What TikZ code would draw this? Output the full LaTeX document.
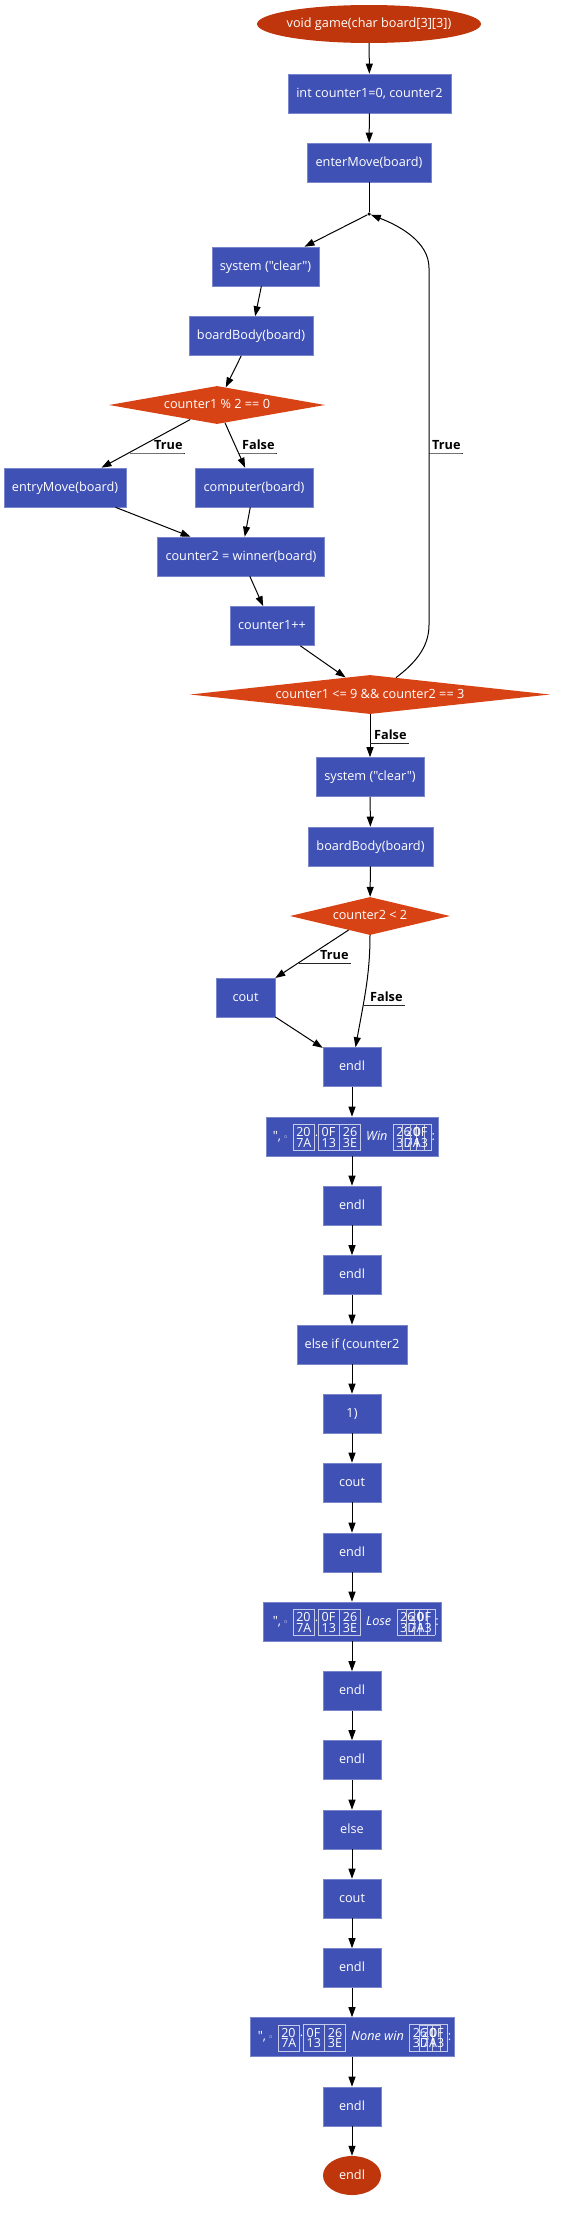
\documentclass[tikz,border=0pt]{standalone}
\usepackage{fontspec}
\setmainfont[Ligatures=TeXOff]{Open Sans}
\newfontfamily\dejavu{DejaVu Sans}
\usetikzlibrary{shapes.geometric,arrows.meta}
\definecolor{boxblue}{HTML}{3F51B5}
\definecolor{boxedge}{HTML}{7986CB}
\definecolor{decor}{HTML}{D84315}
\definecolor{termc}{HTML}{BF360C}
\definecolor{tofuframe}{HTML}{C5CAE9}
\newcommand\mainf{\fontsize{12.7}{15}\selectfont}
\newcommand\tofuf{\fontsize{12.5}{10.5}\selectfont\upshape}
\newcommand\tofu[2]{$\vcenter{\hbox{\setlength\fboxsep{2.9pt}\setlength\fboxrule{0.6pt}\textcolor{tofuframe}{\fbox{\color{white}\tofuf\vbox{\baselineskip=10.5pt\hbox{#1}\hbox{#2}}}}}}$}
\newcommand\tofuline[1]{",\,{\dejavu\fontsize{9}{9}\selectfont ◦}\,\,\tofu{20}{7A}\raisebox{4pt}{.}\tofu{0F}{13}\tofu{26}{3E}\, \textit{#1}\, \tofu{26}{3D}\hspace{-14pt}\tofu{20}{7A}\hspace{-14pt}\tofu{0F}{13}:}
\tikzset{
  base/.style={text=white, font=\mainf, inner sep=0pt, text height=10pt, text depth=2.4pt},
  pbox/.style={base, rectangle, fill=boxblue, draw=boxedge, line width=0.6pt, minimum height=39pt},
  dec/.style={base, diamond, fill=decor, minimum height=38pt, aspect=5},
  term/.style={base, ellipse, fill=termc, minimum height=38pt},
  arr/.style={draw=black, line width=1pt, -{Triangle[length=10pt,width=7pt]}},
  plain/.style={draw=black, line width=1pt},
  lbl/.style={font=\mainf\bfseries, text=black, inner sep=0pt, anchor=base west},
  uline/.style={draw=black!85, line width=1pt},
}
\begin{document}
\begin{tikzpicture}[x=1pt,y=-1pt]
\useasboundingbox (0,0) rectangle (569,2214);
% nodes
\node[term, minimum width=224pt] (s) at (369,24) {\makebox[0pt]{void game(char board[3][3])}};
\node[pbox, minimum width=163pt] (n1) at (369.5,93.5) {int counter1=0, counter2};
\node[pbox, minimum width=124pt] (n2) at (369,162.5) {enterMove(board)};
\node[circle, fill=black, inner sep=0pt, minimum size=3.5pt] (J) at (369,214) {};
\node[pbox, minimum width=107pt] (n3) at (265.5,266.5) {system ("clear")};
\node[pbox, minimum width=124pt] (n4) at (251,336) {boardBody(board)};
\node[dec, minimum width=216pt] (d1) at (217,405) {\makebox[0pt]{counter1 \% 2 == 0}};
\node[pbox, minimum width=122pt] (n5) at (65,487.5) {entryMove(board)};
\node[pbox, minimum width=118pt] (n6) at (254,487.5) {computer(board)};
\node[pbox, minimum width=167pt] (n7) at (241,556.5) {counter2 = winner(board)};
\node[pbox, minimum width=84pt] (n8) at (272,626) {counter1++};
\node[dec, minimum width=360pt, minimum height=39pt] (d2) at (370,694.5) {\makebox[0pt]{counter1 <= 9 \&\& counter2 == 3}};
\node[pbox, minimum width=108pt] (n9) at (370,777) {system ("clear")};
\node[pbox, minimum width=125pt] (n10) at (370.5,846.5) {boardBody(board)};
\node[dec, minimum width=160pt] (d3) at (370,916) {\makebox[0pt]{counter2 < 2}};
\node[pbox, minimum width=59pt] (n11) at (245.5,997.5) {cout};
\node[pbox, minimum width=58pt] (n12) at (352,1067) {endl};
\node[pbox, minimum width=172pt] (n13) at (352,1136.5) {};
\node[base, anchor=west] (n13t) at ([xshift=7pt]n13.west) {\tofuline{Win}};
\node[pbox, minimum width=58pt] (n14) at (352,1205.5) {endl};
\node[pbox, minimum width=58pt] (n15) at (352,1275) {endl};
\node[pbox, minimum width=110pt] (n16) at (352,1344.5) {else if (counter2};
\node[pbox, minimum width=58pt] (n17) at (352,1413.5) {1)};
\node[pbox, minimum width=58pt] (n18) at (352,1482.5) {cout};
\node[pbox, minimum width=58pt] (n19) at (352,1552.5) {endl};
\node[pbox, minimum width=178pt] (n20) at (352,1621.5) {};
\node[base, anchor=west] (n20t) at ([xshift=10pt]n20.west) {\tofuline{Lose}};
\node[pbox, minimum width=58pt] (n21) at (352,1691) {endl};
\node[pbox, minimum width=58pt] (n22) at (352,1760) {endl};
\node[pbox, minimum width=58pt] (n23) at (352,1829.5) {else};
\node[pbox, minimum width=58pt] (n24) at (352,1898.5) {cout};
\node[pbox, minimum width=58pt] (n25) at (352,1968) {endl};
\node[pbox, minimum width=204pt] (n26) at (352,2037) {};
\node[base, anchor=west] (n26t) at ([xshift=8pt]n26.west) {\tofuline{None win}};
\node[pbox, minimum width=58pt] (n27) at (352,2106.5) {endl};
\node[term, minimum width=58pt, minimum height=39pt] (e) at (352,2175.5) {\makebox[0pt]{endl}};
% edges
\draw[arr] (s) -- (n1);
\draw[arr] (n1) -- (n2);
\draw[plain] (n2) -- (J);
\draw[arr] (J) -- (n3);
\draw[arr] (n3) -- (n4);
\draw[arr] (n4) -- (d1);
\draw[arr] (d1) -- (n5);
\draw[arr] (d1) -- (n6);
\draw[arr] (n5) -- (n7);
\draw[arr] (n6) -- (n7);
\draw[arr] (n7) -- (n8);
\draw[arr] (n8) -- (d2);
\draw[arr] (d2.33) .. controls (414,664) and (429,648) .. (429,625) -- (429,268) .. controls (429,242) and (400,226) .. (J);
\draw[arr] (d2) -- (n9);
\draw[arr] (n9) -- (n10);
\draw[arr] (n10) -- (d3);
\draw[arr] (d3) -- (n11);
\draw[arr] (d3.south) .. controls (370,975) and (364,1000) .. (n12);
\draw[arr] (n11) -- (n12);
\foreach \a/\b in {n12/n13,n13/n14,n14/n15,n15/n16,n16/n17,n17/n18,n18/n19,n19/n20,n20/n21,n21/n22,n22/n23,n23/n24,n24/n25,n25/n26,n26/n27,n27/e}
  \draw[arr] (\a) -- (\b);
% edge labels
\coordinate (u1) at (129.5,453);
\node[lbl] (L1) at (154,449.5) {True};
\draw[uline] (u1) -- (u1 -| L1.east) -- ++(2,0);
\coordinate (u2) at (238.7,453);
\node[lbl] (L2) at (242,449.5) {False};
\draw[uline] (u2) -- (u2 -| L2.east) -- ++(2,0);
\coordinate (u3) at (429,453);
\node[lbl] (L3) at (432,449.5) {True};
\draw[uline] (u3) -- (u3 -| L3.east) -- ++(2,0);
\coordinate (u4) at (370,743);
\node[lbl] (L4) at (374,739.5) {False};
\draw[uline] (u4) -- (u4 -| L4.east) -- ++(2,0);
\coordinate (u5) at (299.2,963);
\node[lbl] (L5) at (320,959.5) {True};
\draw[uline] (u5) -- (u5 -| L5.east) -- ++(2,0);
\coordinate (u6) at (363.5,1005);
\node[lbl] (L6) at (370,1001.5) {False};
\draw[uline] (u6) -- (u6 -| L6.east) -- ++(2,0);
\end{tikzpicture}
\end{document}
